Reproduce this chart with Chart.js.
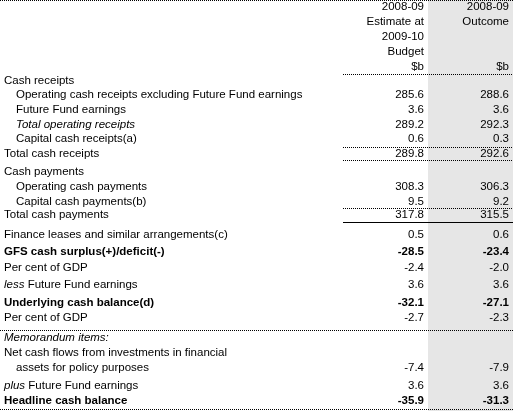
<!DOCTYPE html>
<html>
<head>
<meta charset="utf-8">
<script src="https://cdn.jsdelivr.net/npm/chart.js@4"></script>
<style>
  body { margin: 0; background: #fff; }
</style>
</head>
<body>
<canvas id="table" width="513" height="411"></canvas>
<script>
// header lines of the two value columns
const headEstimate = ["2008-09", "Estimate at", "2009-10", "Budget", "$b"];
const headOutcome = ["2008-09", "Outcome", "", "", "$b"];

// body rows
const rowLabels = [
  "Cash receipts",
  "Operating cash receipts excluding Future Fund earnings",
  "Future Fund earnings",
  "Total operating receipts",
  "Capital cash receipts(a)",
  "Total cash receipts",
  "Cash payments",
  "Operating cash payments",
  "Capital cash payments(b)",
  "Total cash payments",
  "Finance leases and similar arrangements(c)",
  "GFS cash surplus(+)/deficit(-)",
  "Per cent of GDP",
  "less Future Fund earnings",
  "Underlying cash balance(d)",
  "Per cent of GDP",
  "Memorandum items:",
  "Net cash flows from investments in financial",
  "assets for policy purposes",
  "plus Future Fund earnings",
  "Headline cash balance"
];
const estimate = ["", "285.6", "3.6", "289.2", "0.6", "289.8", "", "308.3", "9.5", "317.8", "0.5",
  "-28.5", "-2.4", "3.6", "-32.1", "-2.7", "", "", "-7.4", "3.6", "-35.9"];
const outcome = ["", "288.6", "3.6", "292.3", "0.3", "292.6", "", "306.3", "9.2", "315.5", "0.6",
  "-23.4", "-2.0", "3.6", "-27.1", "-2.3", "", "", "-7.9", "3.6", "-31.3"];

// layout (styles / positions, kept apart from the data)
const headY = [7, 22, 37, 52, 67];
const rowY = [81, 95, 110, 125, 139, 154, 172, 187, 202, 215, 235, 252, 268, 285, 303, 318, 338, 353, 368, 386, 401];
const rowIndent = [0, 1, 1, 1, 1, 0, 0, 1, 1, 0, 0, 0, 0, 0, 0, 0, 0, 0, 1, 0, 0];
const rowBold = [11, 14, 20];
const italicPrefix = { 13: "less", 19: "plus" };
const rowItalic = [3, 16];
// lines: [y, x0, type]
const rules = [
  [0, 0, "dot"], [74, 343, "dot"], [147, 343, "dot"], [160, 343, "dot"],
  [208, 343, "dot"], [222, 343, "solid"], [330, 0, "dot"], [409, 0, "dot"]
];

const font = 'Liberation Sans, Arial, sans-serif';
const size = '11.5px ';

const tablePlugin = {
  id: 'tableText',
  beforeDatasetsDraw(chart) {
    const { ctx, scales: { x, y } } = chart;
    ctx.save();
    ctx.fillStyle = '#e6e6e6';
    ctx.fillRect(x.getPixelForValue(428), y.getPixelForValue(0), x.getPixelForValue(513) - x.getPixelForValue(428), y.getPixelForValue(411) - y.getPixelForValue(0));
    ctx.restore();
  },
  afterDatasetsDraw(chart) {
    const { ctx, scales: { x, y } } = chart;
    ctx.save();
    ctx.fillStyle = '#000';
    ctx.textBaseline = 'middle';
    const colE = x.getPixelForValue(424), colO = x.getPixelForValue(509);

    ctx.font = size + font;
    ctx.textAlign = 'right';
    headEstimate.forEach((t, i) => ctx.fillText(t, colE, y.getPixelForValue(headY[i])));
    headOutcome.forEach((t, i) => ctx.fillText(t, colO, y.getPixelForValue(headY[i])));

    rowLabels.forEach((label, i) => {
      const py = y.getPixelForValue(rowY[i]);
      const bold = rowBold.includes(i);
      const base = (bold ? 'bold ' : '') + size + font;
      let px = x.getPixelForValue(rowIndent[i] ? 16 : 4);
      ctx.textAlign = 'left';
      if (italicPrefix[i]) {
        ctx.font = 'italic ' + size + font;
        ctx.fillText(italicPrefix[i], px, py);
        px += ctx.measureText(italicPrefix[i] + ' ').width;
        ctx.font = base;
        ctx.fillText(label.slice(italicPrefix[i].length + 1), px, py);
      } else {
        ctx.font = rowItalic.includes(i) ? 'italic ' + size + font : base;
        ctx.fillText(label, px, py);
      }
      ctx.font = base;
      ctx.textAlign = 'right';
      ctx.fillText(estimate[i], colE, py);
      ctx.fillText(outcome[i], colO, py);
    });

    rules.forEach(([ry, x0, type]) => {
      const py = Math.round(y.getPixelForValue(ry)) + 0.5;
      ctx.strokeStyle = '#000';
      ctx.lineWidth = 1;
      ctx.setLineDash(type === 'dot' ? [1, 1] : []);
      ctx.beginPath();
      ctx.moveTo(x.getPixelForValue(x0), py);
      ctx.lineTo(x.getPixelForValue(513), py);
      ctx.stroke();
    });
    ctx.restore();
  }
};

new Chart(document.getElementById('table'), {
  type: 'scatter',
  data: { datasets: [{ data: [] }] },
  options: {
    responsive: false,
    animation: false,
    layout: { padding: 0 },
    plugins: { legend: { display: false }, tooltip: { enabled: false } },
    scales: {
      x: { type: 'linear', min: 0, max: 513, display: false },
      y: { type: 'linear', min: 0, max: 411, reverse: true, display: false }
    }
  },
  plugins: [tablePlugin]
});
</script>
</body>
</html>
